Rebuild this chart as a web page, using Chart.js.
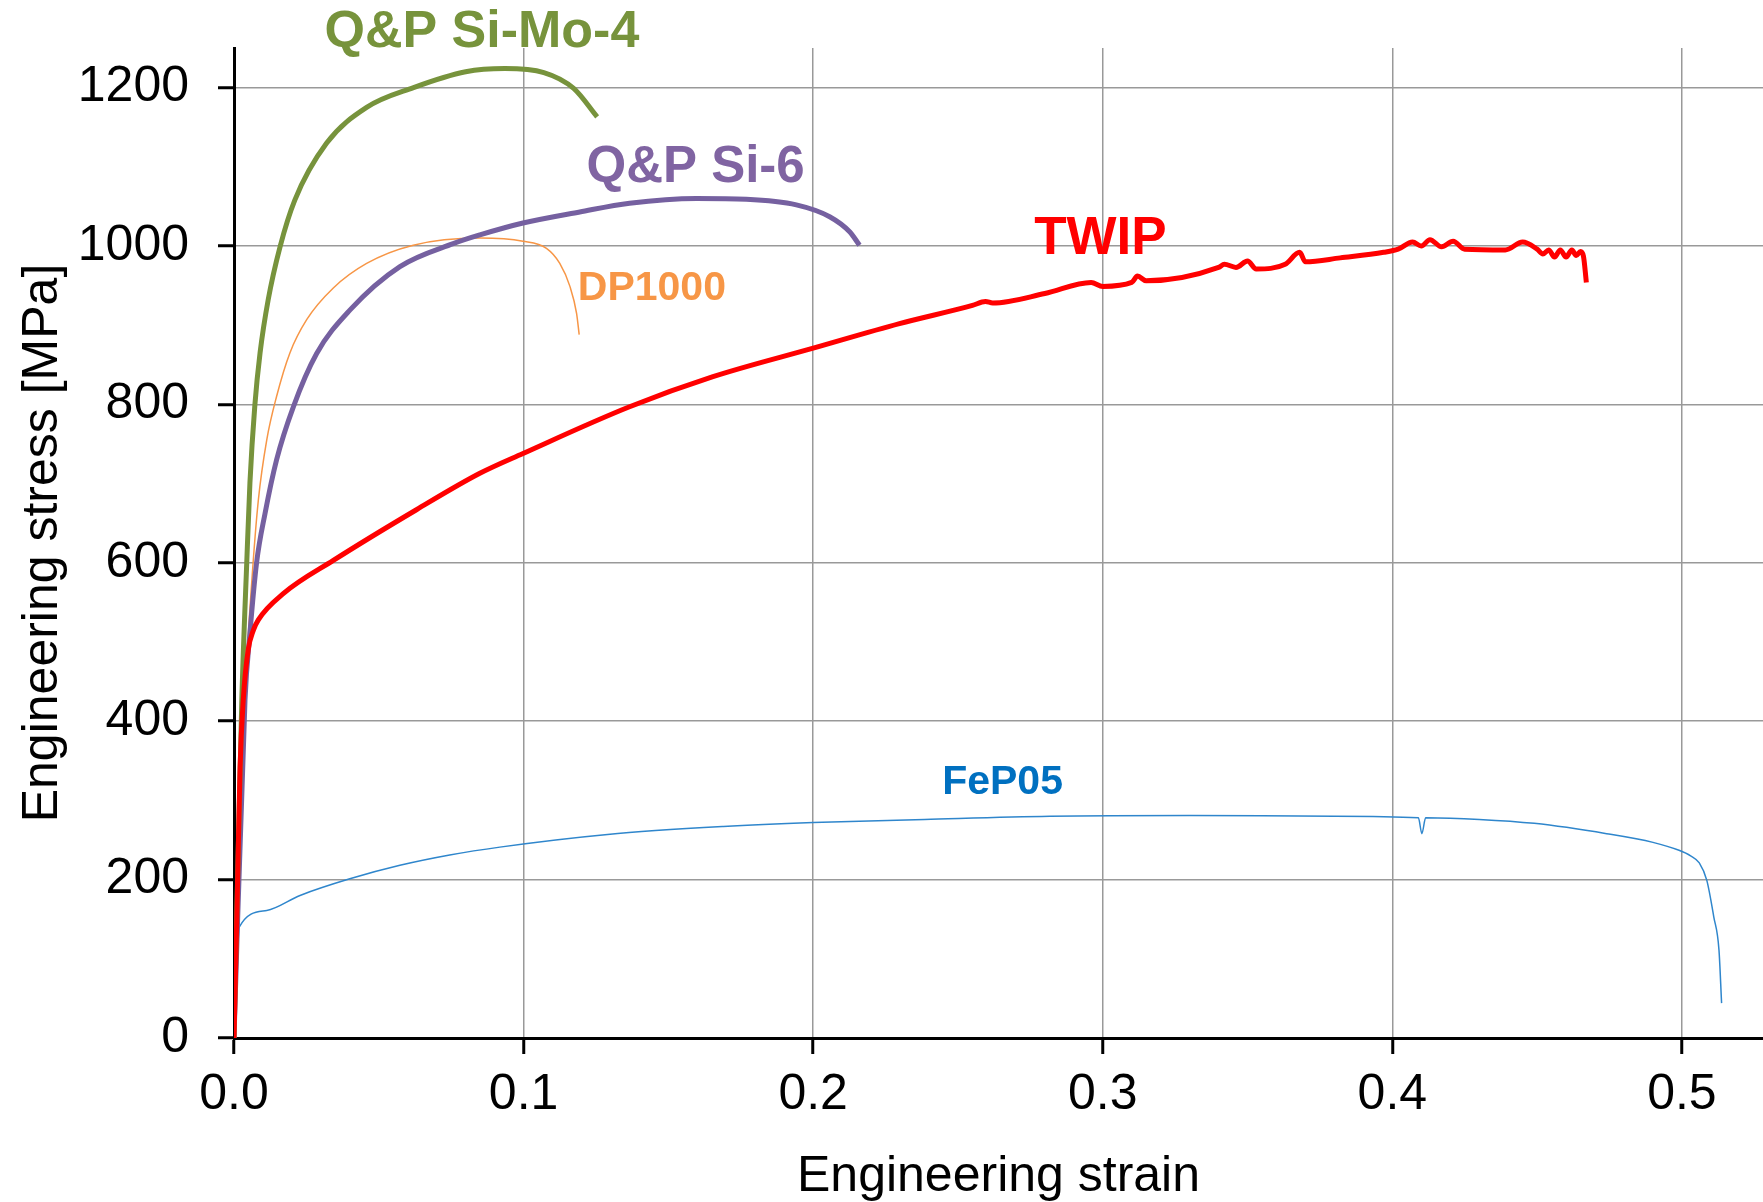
<!DOCTYPE html>
<html>
<head>
<meta charset="utf-8">
<script src="https://cdn.jsdelivr.net/npm/chart.js@4.4.0/dist/chart.umd.min.js"></script>
<style>
  html, body { margin: 0; padding: 0; background: #fff; }
  canvas { display: block; }
</style>
</head>
<body>
<canvas id="stressStrain" width="1763" height="1202"></canvas>
<script>
// tick labels
const xTicks = [0, 0.1, 0.2, 0.3, 0.4, 0.5];
const yTicks = [0, 200, 400, 600, 800, 1000, 1200];

// TWIP
const strainTwip = [0, 0.0011, 0.0021, 0.0032, 0.0049, 0.0067, 0.0084, 0.017, 0.0343, 0.063, 0.0849, 0.0998, 0.1366, 0.1654, 0.2, 0.2298, 0.255, 0.2595, 0.262, 0.28, 0.296, 0.3, 0.31, 0.312, 0.315, 0.34, 0.342, 0.346, 0.35, 0.353, 0.363, 0.368, 0.37, 0.382, 0.397, 0.402, 0.407, 0.41, 0.413, 0.417, 0.421, 0.425, 0.439, 0.445, 0.45, 0.452, 0.454, 0.456, 0.458, 0.46, 0.462, 0.4635, 0.465, 0.466, 0.467];
const stressTwip = [0, 174, 342, 427, 490, 515, 528, 561, 603, 667, 713, 738, 797, 835, 871, 902, 925, 930, 928, 940, 954, 949, 954, 962, 956, 973, 977, 973, 981, 971, 977, 992, 980, 985, 992, 996, 1005, 1000, 1008, 999, 1006, 996, 995, 1005, 996, 990, 995, 986, 995, 986, 995, 988, 993, 987, 954];

// Q&P Si-Mo-4
const strainSiMo4 = [0, 0.0027, 0.0044, 0.0055, 0.0072, 0.009, 0.0118, 0.0159, 0.021, 0.032, 0.0458, 0.062, 0.08, 0.0935, 0.107, 0.1173, 0.1254];
const stressSiMo4 = [0, 427, 600, 701, 799, 865, 932, 999, 1058, 1130, 1175, 1200, 1220, 1224, 1219, 1199, 1163];

// Q&P Si-6
const strainSi6 = [0, 0.0038, 0.0055, 0.0078, 0.0107, 0.0147, 0.0205, 0.0285, 0.04, 0.0573, 0.0757, 0.0849, 0.0998, 0.1194, 0.1366, 0.1597, 0.1769, 0.1942, 0.2057, 0.2126, 0.216];
const stressSi6 = [0, 427, 511, 600, 662, 730, 797, 864, 919, 974, 1003, 1014, 1029, 1043, 1054, 1060, 1059, 1052, 1037, 1018, 1001];

// DP1000
const strainDp1000 = [0, 0.0044, 0.0061, 0.0084, 0.0113, 0.0147, 0.0193, 0.0251, 0.0343, 0.0458, 0.0619, 0.0849, 0.0998, 0.1079, 0.1125, 0.116, 0.1183, 0.1192];
const stressDp1000 = [0, 469, 574, 679, 755, 810, 865, 907, 947, 978, 1001, 1010, 1006, 997, 978, 949, 915, 888];

// FeP05
const strainFep05 = [0, 0.0015, 0.0018, 0.0113, 0.0228, 0.04, 0.0573, 0.0745, 0.0918, 0.129, 0.169, 0.2, 0.2385, 0.2817, 0.33, 0.38, 0.409, 0.4102, 0.4115, 0.43, 0.449, 0.474, 0.49, 0.499, 0.503, 0.506, 0.5086, 0.511, 0.5128, 0.5137];
const stressFep05 = [0, 128, 140, 161, 180, 201, 218, 231, 241, 257, 267, 272, 276, 280, 281, 280, 278, 258, 278, 276, 271, 258, 247, 237, 230, 221, 199, 153, 111, 44];

// curve labels
const labelTexts = ['Q&P Si-Mo-4', 'Q&P Si-6', 'DP1000', 'TWIP', 'FeP05'];
const labelStrain = [0.0856, 0.1594, 0.1443, 0.2992, 0.2654];
const labelStress = [1269, 1099, 946, 1008, 322];
const labelColors = ['#77933C', '#8064A2', '#F79646', '#FF0000', '#0070C0'];
const labelSizes = [52, 51, 41, 53, 41];

const FONT = "'Liberation Sans', Arial, sans-serif";

function toPoints(xs, ys) {
    let pts = [];
    for (let i = 0; i < xs.length; i++) {
        pts.push({x: xs[i], y: ys[i]});
    }
    return pts;
}

const curveLabels = {
    id: 'curveLabels',
    afterDatasetsDraw(chart) {
        const ctx = chart.ctx;
        const xs = chart.scales.x;
        const ys = chart.scales.y;
        ctx.save();
        ctx.textAlign = 'center';
        ctx.textBaseline = 'middle';
        for (let i = 0; i < labelTexts.length; i++) {
            ctx.font = 'bold ' + labelSizes[i] + 'px ' + FONT;
            ctx.fillStyle = labelColors[i];
            ctx.fillText(labelTexts[i], xs.getPixelForValue(labelStrain[i]), ys.getPixelForValue(labelStress[i]));
        }
        ctx.restore();
    }
};

const whiteBg = {
    id: 'whiteBg',
    beforeDraw(chart) {
        const ctx = chart.ctx;
        ctx.save();
        ctx.fillStyle = '#fff';
        ctx.fillRect(0, 0, chart.width, chart.height);
        ctx.restore();
    }
};

new Chart(document.getElementById('stressStrain'), {
    type: 'scatter',
    data: {
        datasets: [
            { label: 'TWIP', data: toPoints(strainTwip, stressTwip), borderColor: '#FF0000', borderWidth: 5, cubicInterpolationMode: 'monotone' },
            { label: 'Q&P Si-Mo-4', data: toPoints(strainSiMo4, stressSiMo4), borderColor: '#77933C', borderWidth: 5, cubicInterpolationMode: 'monotone' },
            { label: 'Q&P Si-6', data: toPoints(strainSi6, stressSi6), borderColor: '#7560A0', borderWidth: 5, cubicInterpolationMode: 'monotone' },
            { label: 'DP1000', data: toPoints(strainDp1000, stressDp1000), borderColor: '#F79646', borderWidth: 1.5, cubicInterpolationMode: 'monotone' },
            { label: 'FeP05', data: toPoints(strainFep05, stressFep05), borderColor: '#2F86CC', borderWidth: 1.5, cubicInterpolationMode: 'monotone' }
        ]
    },
    options: {
        responsive: false,
        animation: false,
        showLine: true,
        elements: { point: { radius: 0, hoverRadius: 0 }, line: { fill: false } },
        layout: { padding: { top: 48, right: 0, bottom: 0, left: 0 } },
        plugins: { legend: { display: false }, tooltip: { enabled: false } },
        scales: {
            x: {
                type: 'linear',
                min: 0,
                max: 0.528,
                afterBuildTicks: function(scale) { scale.ticks = xTicks.map(v => ({value: v})); },
                afterFit: function(scale) {
                    scale.height = 164;
                    scale.paddingLeft = 0;
                    scale.paddingRight = 0;
                },
                ticks: {
                    padding: 11,
                    color: '#000',
                    font: { family: FONT, size: 50 },
                    callback: v => v.toFixed(1)
                },
                grid: { color: '#999', lineWidth: 1.5, tickLength: 16, tickColor: '#000', tickWidth: 3 },
                border: { color: '#000', width: 3 },
                title: {
                    display: true,
                    text: 'Engineering strain',
                    color: '#000',
                    font: { family: FONT, size: 50, lineHeight: 1 },
                    padding: { top: 0, bottom: 0 }
                }
            },
            y: {
                type: 'linear',
                min: 0,
                max: 1250,
                afterBuildTicks: function(scale) { scale.ticks = yTicks.map(v => ({value: v})); },
                afterFit: function(scale) {
                    scale.width = 234;
                    scale.paddingTop = 0;
                    scale.paddingBottom = 0;
                },
                ticks: {
                    padding: 29,
                    color: '#000',
                    font: { family: FONT, size: 50 },
                    callback: v => String(v)
                },
                grid: { color: '#999', lineWidth: 1.5, tickLength: 16, tickColor: '#000', tickWidth: 3 },
                border: { color: '#000', width: 3 },
                title: {
                    display: true,
                    text: 'Engineering stress [MPa]',
                    color: '#000',
                    font: { family: FONT, size: 50 },
                    padding: { top: 13, bottom: 0 }
                }
            }
        }
    },
    plugins: [whiteBg, curveLabels]
});
</script>
</body>
</html>
